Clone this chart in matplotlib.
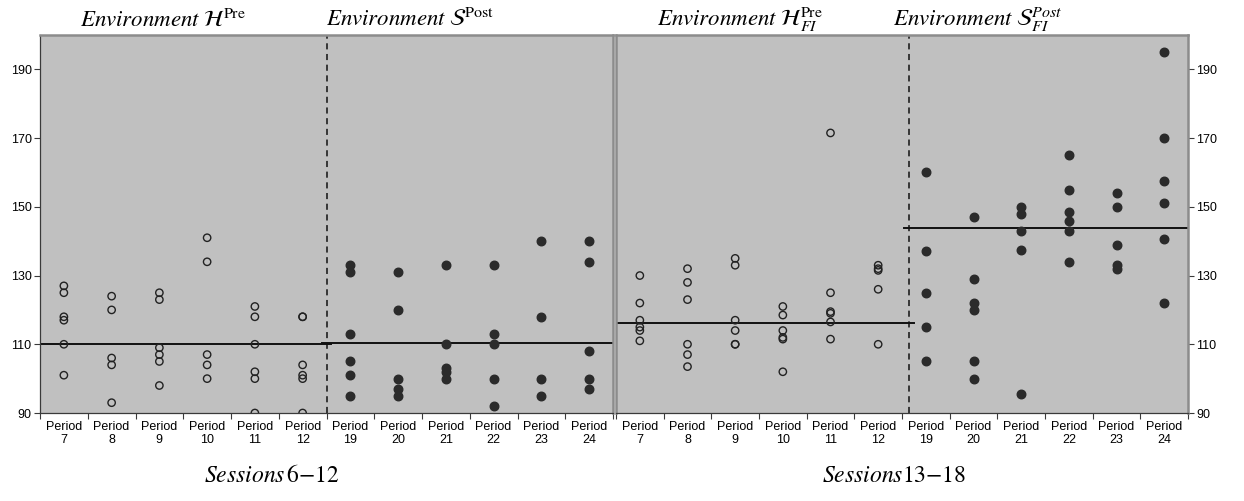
import numpy as np
import matplotlib
matplotlib.use('Agg')
import matplotlib.pyplot as plt

plt.rcParams['font.family'] = ['Liberation Sans', 'DejaVu Sans']
plt.rcParams['mathtext.fontset'] = 'stix'

# periods shown on each panel
periods = ['7', '8', '9', '10', '11', '12', '19', '20', '21', '22', '23', '24']

# sessions 6-12, one list per period (open = periods 7-12, filled = 19-24)
left_vals = [
    [127, 125, 118, 117, 110, 101],
    [124, 120, 106, 104, 93],
    [125, 123, 109, 107, 105, 98],
    [141, 134, 107, 104, 100],
    [121, 118, 110, 102, 100, 90],
    [118, 118, 104, 101, 100, 90],
    [133, 131, 113, 105, 101, 95],
    [131, 120, 100, 97, 95],
    [133, 110, 103, 102, 100],
    [133, 113, 110, 100, 92],
    [140, 118, 100, 95],
    [140, 134, 108, 100, 97],
]

# sessions 13-18
right_vals = [
    [130, 122, 117, 115, 114, 111],
    [132, 128, 123, 110, 107, 103.5],
    [135, 133, 117, 114, 110, 110],
    [121, 118.5, 114, 112, 111.5, 102],
    [171.5, 125, 119.5, 119, 116.5, 111.5],
    [133, 132, 131.5, 126, 110],
    [160, 137, 125, 115, 105],
    [147, 129, 122, 120, 105, 100],
    [150, 148, 143, 137.5, 95.5],
    [165, 155, 148.5, 146, 143, 134],
    [154, 150, 139, 133, 132],
    [195, 170, 157.5, 151, 140.5, 122],
]

# horizontal average lines (first half, second half)
left_means = [110.0, 110.4]
right_means = [116.2, 143.9]

left_titles = [r'$\mathit{Environment}\ \mathcal{H}^{\mathrm{Pre}}$',
               r'$\mathit{Environment}\ \mathcal{S}^{\mathrm{Post}}$']
right_titles = [r'$\mathit{Environment}\ \mathcal{H}^{\mathrm{Pre}}_{FI}$',
                r'$\mathit{Environment}\ \mathcal{S}^{Post}_{FI}$']
bottom_labels = [r'$\mathit{Sessions}\,6{-}12$', r'$\mathit{Sessions}13{-}18$']

W, H = 1244, 501
fig = plt.figure(figsize=(W / 100, H / 100), dpi=100)

bg = '#c0c0c0'
frame = '#8c8c8c'
dark = '#3a3a3a'


def panel(rect, vals, means, split, right_side):
    ax = fig.add_axes(rect)
    ax.set_facecolor(bg)
    for i, v in enumerate(vals):
        x = np.full(len(v), i)
        if i < 6:
            ax.scatter(x, v, s=28, facecolors='none', edgecolors='#222222',
                       linewidths=1.0, zorder=3)
        else:
            ax.scatter(x, v, s=38, color='#2b2b2b', zorder=3)
    ax.plot([-0.5, split + 0.1], [means[0], means[0]], color='#111111', lw=1.4, zorder=2)
    ax.plot([split - 0.1, 11.5], [means[1], means[1]], color='#111111', lw=1.4, zorder=2)
    ax.axvline(split, color='#111111', lw=1.1, ls=(0, (4, 3)), zorder=2)
    ax.set_xlim(-0.5, 11.5)
    ax.set_ylim(90, 200)
    ax.set_xticks(np.arange(-0.5, 12, 1))
    ax.set_xticklabels([])
    ax.set_xticks(np.arange(12), minor=True)
    ax.set_xticklabels(['Period\n' + p for p in periods], minor=True,
                       fontsize=9, linespacing=1.1)
    ax.tick_params(axis='x', which='major', direction='out', length=4,
                   color=dark, width=0.8)
    ax.tick_params(axis='x', which='minor', length=0, pad=6)
    ax.set_yticks(np.arange(90, 191, 20))
    ax.tick_params(axis='y', direction='out', length=4, color=dark, width=0.8,
                   labelsize=9, pad=2)
    for s in ['top', 'right', 'left']:
        ax.spines[s].set_color(frame)
        ax.spines[s].set_linewidth(1.8)
    ax.spines['bottom'].set_color(dark)
    ax.spines['bottom'].set_linewidth(0.9)
    if right_side:
        ax.yaxis.tick_right()
    else:
        ax.spines['left'].set_color(dark)
        ax.spines['left'].set_linewidth(0.9)
    return ax


ax1 = panel([40 / W, 88 / H, 573 / W, 378 / H], left_vals, left_means, 5.5, False)
ax2 = panel([616 / W, 88 / H, 572 / W, 378 / H], right_vals, right_means, 5.65, True)

ty = (H - 26) / H
fig.text(163 / W, ty, left_titles[0], fontsize=16.5, ha='center', va='baseline')
fig.text(410 / W, ty, left_titles[1], fontsize=16.5, ha='center', va='baseline')
fig.text(740 / W, ty, right_titles[0], fontsize=16.5, ha='center', va='baseline')
fig.text(978 / W, ty, right_titles[1], fontsize=16.5, ha='center', va='baseline')

fig.text(272 / W, (H - 482) / H, bottom_labels[0], fontsize=17,
         ha='center', va='baseline')
fig.text(894 / W, (H - 482) / H, bottom_labels[1], fontsize=17,
         ha='center', va='baseline')

fig.savefig('out.png', dpi=100)
